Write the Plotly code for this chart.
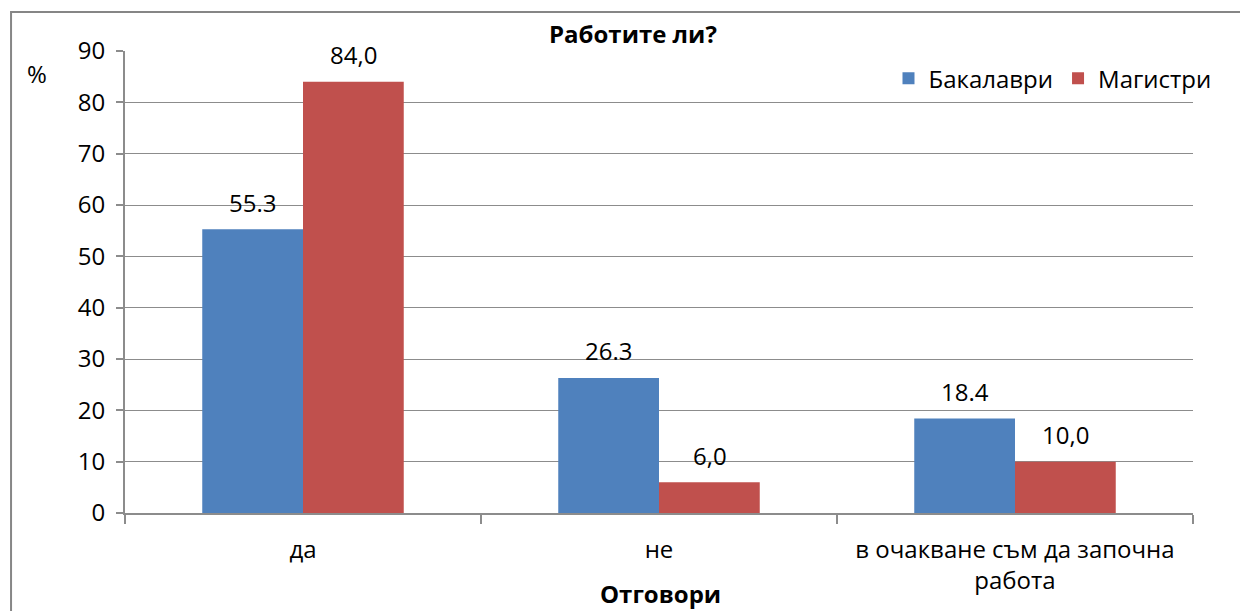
import plotly.graph_objects as go

# data
categories = ["да", "не", "в очакване съм да започна<br>работа"]
bachelors = [55.3, 26.3, 18.4]
masters = [84.0, 6.0, 10.0]
bachelors_labels = ["55.3", "26.3", "18.4"]
masters_labels = ["84,0", "6,0", "10,0"]

FONT = "Open Sans, Noto Sans, sans-serif"
GRID = "#8c8c8c"
FS = 24

fig = go.Figure()
fig.add_trace(go.Bar(
    x=categories, y=bachelors, name="Бакалаври",
    marker=dict(color="#4f81bd", line=dict(color="#4f81bd", width=0)),
))
fig.add_trace(go.Bar(
    x=categories, y=masters, name="Магистри",
    marker=dict(color="#c0504d", line=dict(color="#c0504d", width=0)),
))

# value labels sit a bit higher above the bars than plotly's own outside text
annotations = []
for cat, v, lab in zip(categories, bachelors, bachelors_labels):
    annotations.append(dict(x=cat, y=v, text=lab, showarrow=False, xshift=-50.5,
                            yshift=27, yanchor="middle", font=dict(size=FS)))
for cat, v, lab in zip(categories, masters, masters_labels):
    annotations.append(dict(x=cat, y=v, text=lab, showarrow=False, xshift=50.5,
                            yshift=27, yanchor="middle", font=dict(size=FS)))

annotations += [
    dict(text="<b>Работите ли?</b>", x=0.4757, y=1.037, xref="paper", yref="paper",
         showarrow=False, font=dict(size=FS), xanchor="center", yanchor="middle"),
    dict(text="%", x=-0.0824, y=0.952, xref="paper", yref="paper",
         showarrow=False, font=dict(size=FS), xanchor="center", yanchor="middle"),
    dict(text="<b>Отговори</b>", x=0.501, y=-0.174, xref="paper", yref="paper",
         showarrow=False, font=dict(size=FS), xanchor="center", yanchor="middle"),
]

# page body has an 8px margin, so the figure is 8px smaller and shifted
fig.update_layout(
    width=1240, height=603,
    margin=dict(l=117, r=55, t=43, b=98),
    paper_bgcolor="white", plot_bgcolor="white",
    font=dict(family=FONT, size=FS, color="black"),
    barmode="group", bargap=0.434, bargroupgap=0,
    showlegend=True,
    legend=dict(orientation="h", x=1.022, xanchor="right", y=0.94, yanchor="middle",
                font=dict(size=FS), bgcolor="rgba(0,0,0,0)",
                itemwidth=30, tracegroupgap=0),
    xaxis=dict(
        showline=True, linecolor=GRID, linewidth=2,
        ticks="outside", tickson="boundaries", ticklen=9, tickcolor=GRID, tickwidth=2,
        showgrid=False, tickfont=dict(size=FS), ticklabelstandoff=14,
    ),
    yaxis=dict(
        range=[0, 90], dtick=10, showline=True, linecolor=GRID, linewidth=2,
        ticks="outside", ticklen=7, tickcolor=GRID, tickwidth=2,
        showgrid=True, gridcolor=GRID, gridwidth=1, zeroline=False,
        tickfont=dict(size=FS), ticklabelstandoff=6,
    ),
    annotations=annotations,
    shapes=[
        dict(type="rect", xref="paper", yref="paper",
             x0=-0.1067, x1=1.2, y0=-0.4, y1=1.0844,
             line=dict(color="#868686", width=2), layer="below"),
    ],
)

fig.write_html("out.html")
